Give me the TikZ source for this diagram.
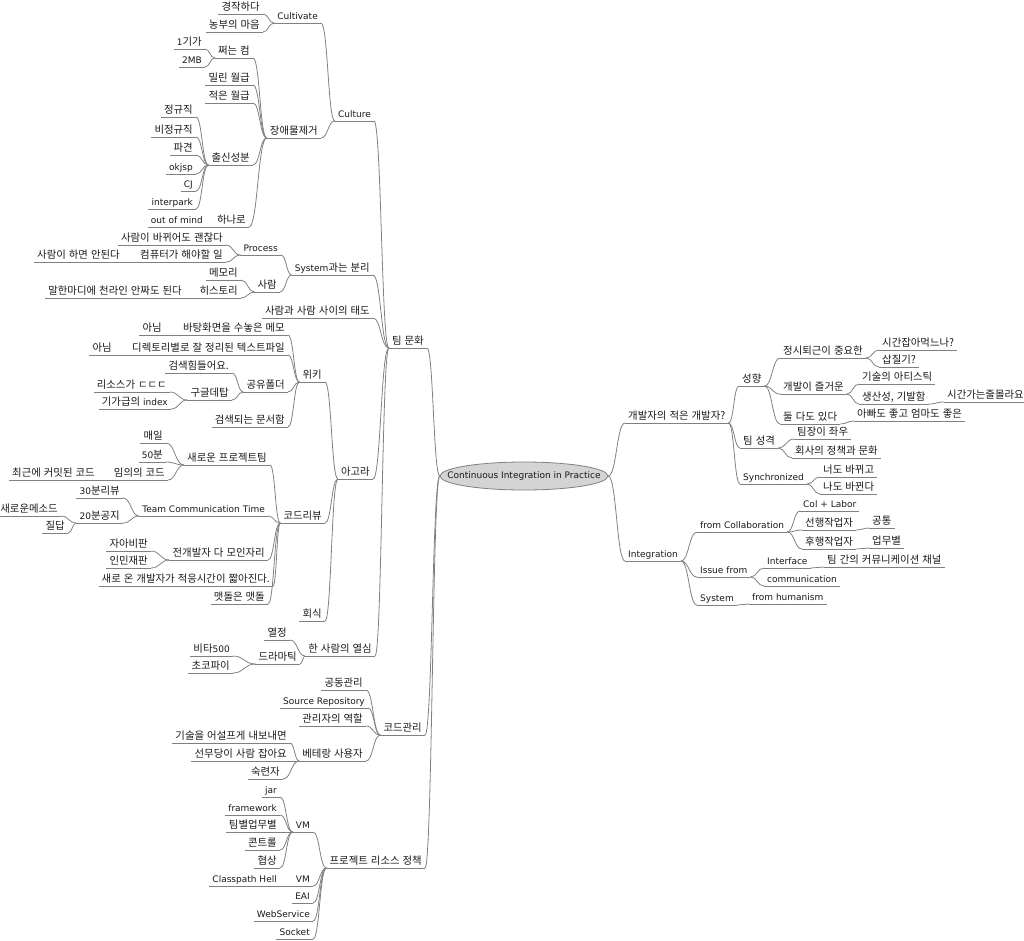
\documentclass[tikz,border=0pt]{standalone}
\usepackage{fontspec}
\setmainfont{Noto Sans CJK KR}[WordSpace=1.3]
\newfontfamily\enfont{DejaVu Sans}
\newcommand\en[1]{{\enfont\fontsize{9}{11}\selectfont #1}}
\usetikzlibrary{calc,shapes.geometric}
\definecolor{linegray}{RGB}{128,128,128}
\definecolor{txtc}{RGB}{25,25,25}
\definecolor{rootfill}{RGB}{212,212,212}
\tikzset{
  uline/.style={draw=linegray, line width=0.8pt},
  lbl/.style={inner xsep=3pt, inner ysep=1pt, text height=7.5pt, text depth=2pt,
    font=\fontsize{10.4}{12}\selectfont, text=txtc,
    append after command={(\tikzlastnode.south west) edge[uline] (\tikzlastnode.south east)}},
  ln/.style={lbl, anchor=south east},
  rn/.style={lbl, anchor=south west},
  conn/.style={draw=linegray, line width=0.8pt,
    to path={.. controls ($(\tikztostart)!0.5!(\tikztotarget|-\tikztostart)$) and ($(\tikztotarget)!0.5!(\tikztostart|-\tikztotarget)$) .. (\tikztotarget)}},
  rootshape/.style={draw=linegray, line width=0.8pt, fill=rootfill},
  rootbox/.style={rectangle, minimum width=168pt, minimum height=28pt, inner sep=0pt, text=txtc},
}
\begin{document}
\begin{tikzpicture}[x=1pt,y=-1pt]
\useasboundingbox (0,0) rectangle (1024,940);
\path[rootshape] (524,476) ellipse [x radius=84pt, y radius=14pt];
\node[rootbox] (root) at (524,476) {\en{Continuous Integration in Practice}};

% ---------- left side ----------
\node[ln] (tf) at (427,348) {팀 문화};
\node[ln] (cult) at (374,121) {\en{Culture}};
\node[ln] (cultivate) at (321,23) {\en{Cultivate}};
\node[ln] (gj) at (263,14) {경작하다};
\node[ln] (nb) at (263,32) {농부의 마음};
\node[ln] (jae) at (321,138) {장애물제거};
\node[ln] (jj) at (253,58) {쩌는 컴};
\node[ln] (g1) at (205,49) {\en{1}기가};
\node[ln] (mb2) at (205,67) {\en{2MB}};
\node[ln] (ml) at (253,85) {밀린 월급};
\node[ln] (je) at (253,103) {적은 월급};
\node[ln] (cs) at (253,165) {출신성분};
\node[ln] (c1) at (196,117) {정규직};
\node[ln] (c2) at (196,137) {비정규직};
\node[ln] (c3) at (196,155) {파견};
\node[ln] (c4) at (196,174) {\en{okjsp}};
\node[ln] (c5) at (196,191) {\en{CJ}};
\node[ln] (c6) at (196,209) {\en{interpark}};
\node[ln] (hn) at (249,227) {하나로};
\node[ln] (oom) at (206,227) {\en{out of mind}};
\node[ln] (sys) at (373,275) {\en{System}과는 분리};
\node[ln] (proc) at (281,255) {\en{Process}};
\node[ln] (sb) at (226,245) {사람이 바뀌어도 괜찮다};
\node[ln] (ct) at (226,262) {컴퓨터가 해야할 일};
\node[ln] (sh) at (123,262) {사람이 하면 안된다};
\node[ln] (sr) at (280,292) {사람};
\node[ln] (mem) at (241,280) {메모리};
\node[ln] (his) at (241,298) {히스토리};
\node[ln] (mh) at (185,298) {말한마디에 천라인 안짜도 된다};
\node[ln] (tae) at (373,318) {사람과 사람 사이의 태도};
\node[ln] (agora) at (373,479) {아고라};
\node[ln] (wiki) at (325,382) {위키};
\node[ln] (memo) at (288,335) {바탕화면을 수놓은 메모};
\node[ln] (an1) at (165,335) {아님};
\node[ln] (txt) at (288,355) {디렉토리별로 잘 정리된 텍스트파일};
\node[ln] (an2) at (115,355) {아님};
\node[ln] (share) at (288,392) {공유폴더};
\node[ln] (hard) at (232,373) {검색힘들어요.};
\node[ln] (gd) at (232,400) {구글데탑};
\node[ln] (rs) at (170,392) {리소스가 ㄷㄷㄷ};
\node[ln] (idx) at (171,409) {기가급의 \en{index}};
\node[ln] (doc) at (288,427) {검색되는 문서함};
\node[ln] (cr) at (325,523) {코드리뷰};
\node[ln] (np) at (270,465) {새로운 프로젝트팀};
\node[ln] (md) at (166,443) {매일};
\node[ln] (m50) at (166,462) {\en{50}분};
\node[ln] (rc) at (168,480) {임의의 코드};
\node[ln] (rcc) at (98,480) {최근에 커밋된 코드};
\node[ln] (tct) at (268,516) {\en{Team Communication Time}};
\node[ln] (r30) at (123,498) {\en{30}분리뷰};
\node[ln] (n20) at (123,523) {\en{20}분공지};
\node[ln] (nm) at (61,516) {새로운메소드};
\node[ln] (qa) at (68,533) {질답};
\node[ln] (all) at (268,560) {전개발자 다 모인자리};
\node[ln] (ja) at (151,551) {자아비판};
\node[ln] (inmin) at (151,568) {인민재판};
\node[ln] (new) at (273,586) {새로 온 개발자가 적응시간이 짧아진다.};
\node[ln] (mat) at (268,604) {맷돌은 맷돌};
\node[ln] (hs) at (325,621) {회식};
\node[ln] (hans) at (375,656) {한 사람의 열심};
\node[ln] (yj) at (290,640) {열정};
\node[ln] (drama) at (300,664) {드라마틱};
\node[ln] (vita) at (233,656) {비타\en{500}};
\node[ln] (choco) at (233,673) {초코파이};
\node[ln] (code) at (425,735) {코드관리};
\node[ln] (gong) at (366,690) {공동관리};
\node[ln] (src) at (368,708) {\en{Source Repository}};
\node[ln] (admin) at (366,726) {관리자의 역할};
\node[ln] (vet) at (366,761) {베테랑 사용자};
\node[ln] (tech) at (290,743) {기술을 어설프게 내보내면};
\node[ln] (sun) at (290,761) {선무당이 사람 잡아요};
\node[ln] (suk) at (283,779) {숙련자};
\node[ln] (proj) at (425,868) {프로젝트 리소스 정책};
\node[ln] (vm1) at (313,832) {\en{VM}};
\node[ln] (jar) at (280,797) {\en{jar}};
\node[ln] (fw) at (280,815) {\en{framework}};
\node[ln] (team) at (280,832) {팀별업무별};
\node[ln] (ctrl) at (280,850) {콘트롤};
\node[ln] (neg) at (280,868) {협상};
\node[ln] (vm2) at (313,886) {\en{VM}};
\node[ln] (cph) at (280,886) {\en{Classpath Hell}};
\node[ln] (eai) at (313,903) {\en{EAI}};
\node[ln] (ws) at (313,921) {\en{WebService}};
\node[ln] (sock) at (313,939) {\en{Socket}};

% ---------- right side ----------
\node[rn] (dev) at (625,423) {개발자의 적은 개발자?};
\node[rn] (ten) at (739,386) {성향};
\node[rn] (on) at (780,358) {정시퇴근이 중요한};
\node[rn] (time) at (879,350) {시간잡아먹느나?};
\node[rn] (sap) at (879,367) {삽질기?};
\node[rn] (fun) at (780,394) {개발이 즐거운};
\node[rn] (art) at (859,384) {기술의 아티스틱};
\node[rn] (prod) at (859,404) {생산성, 기발함};
\node[rn] (tg) at (944,402) {시간가는줄몰라요};
\node[rn] (both) at (780,424) {둘 다도 있다};
\node[rn] (dad) at (854,421) {아빠도 좋고 엄마도 좋은};
\node[rn] (tc) at (740,448) {팀 성격};
\node[rn] (lead) at (794,439) {팀장이 좌우};
\node[rn] (comp) at (792,458) {회사의 정책과 문화};
\node[rn] (syn) at (740,484) {\en{Synchronized}};
\node[rn] (you) at (820,477) {너도 바뀌고};
\node[rn] (me) at (820,494) {나도 바뀐다};
\node[rn] (integ) at (625,561) {\en{Integration}};
\node[rn] (fc) at (697,532) {\en{from Collaboration}};
\node[rn] (col) at (800,511) {\en{Col + Labor}};
\node[rn] (pre) at (802,530) {선행작업자};
\node[rn] (com) at (869,528) {공통};
\node[rn] (post) at (802,549) {후행작업자};
\node[rn] (task) at (869,548) {업무별};
\node[rn] (iss) at (697,577) {\en{Issue from}};
\node[rn] (intf) at (764,568) {\en{Interface}};
\node[rn] (chan) at (824,567) {팀 간의 커뮤니케이션 채널};
\node[rn] (commu) at (764,586) {\en{communication}};
\node[rn] (sysr) at (697,605) {\en{System}};
\node[rn] (hum) at (749,604) {\en{from humanism}};

% ---------- connectors ----------
\foreach \c in {tf,code,proj} \draw[conn] (\c.south east) to (root.west);
\foreach \c in {dev,integ} \draw[conn] (root.east) to (\c.south west);
\foreach \c/\p in {gj/cultivate,nb/cultivate,cultivate/cult,jae/cult,g1/jj,mb2/jj,
  jj/jae,ml/jae,je/jae,cs/jae,hn/jae,c1/cs,c2/cs,c3/cs,c4/cs,c5/cs,c6/cs,oom/hn,
  cult/tf,sys/tf,tae/tf,agora/tf,hans/tf,sb/proc,ct/proc,sh/ct,proc/sys,sr/sys,
  mem/sr,his/sr,mh/his,wiki/agora,cr/agora,hs/agora,memo/wiki,txt/wiki,share/wiki,
  doc/wiki,an1/memo,an2/txt,hard/share,gd/share,rs/gd,idx/gd,np/cr,tct/cr,all/cr,
  new/cr,mat/cr,md/np,m50/np,rc/np,rcc/rc,r30/tct,n20/tct,nm/n20,qa/n20,ja/all,
  inmin/all,yj/hans,drama/hans,vita/drama,choco/drama,gong/code,src/code,
  admin/code,vet/code,tech/vet,sun/vet,suk/vet,vm1/proj,vm2/proj,eai/proj,
  ws/proj,sock/proj,jar/vm1,fw/vm1,team/vm1,ctrl/vm1,neg/vm1,cph/vm2}
  \draw[conn] (\c.south east) to (\p.south west);
\foreach \p/\c in {dev/ten,dev/tc,dev/syn,ten/on,ten/fun,ten/both,on/time,on/sap,
  fun/art,fun/prod,prod/tg,both/dad,tc/lead,tc/comp,syn/you,syn/me,integ/fc,
  integ/iss,integ/sysr,fc/col,fc/pre,fc/post,pre/com,post/task,iss/intf,
  iss/commu,intf/chan,sysr/hum}
  \draw[conn] (\p.south east) to (\c.south west);
\end{tikzpicture}
\end{document}
